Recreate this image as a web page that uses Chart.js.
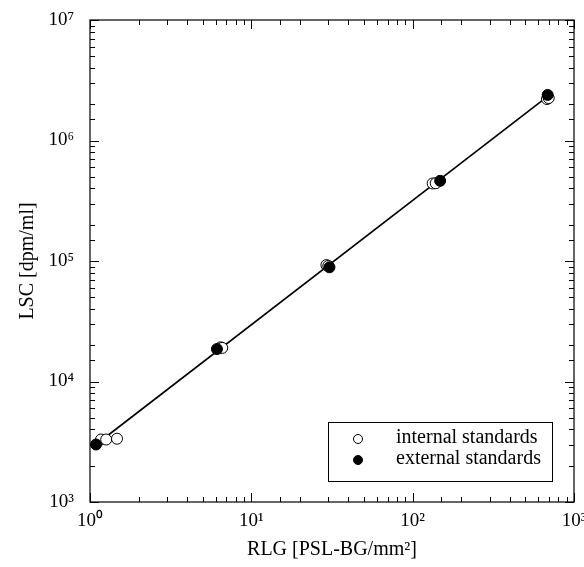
<!DOCTYPE html>
<html><head><meta charset="utf-8">
<script src="https://cdn.jsdelivr.net/npm/chart.js@4.4.1/dist/chart.umd.min.js"></script>
<style>html,body{margin:0;padding:0;background:#fff}</style>
</head><body>
<canvas id="c" width="584" height="567"></canvas>
<script>
// ---- data ----
const internalRLG = [1.17, 1.26, 1.47, 6.45, 6.6, 29.2, 30.0, 133, 139, 680, 697];
const internalLSC = [3300, 3300, 3350, 19200, 19000, 92500, 91000, 440000, 442000, 2210000, 2250000];
const externalRLG = [1.09, 6.12, 30.5, 148, 687];
const externalLSC = [3000, 18600, 88700, 463000, 2390000];
const fitRLG = [1.09, 680];
const fitLSC = [3000, 2300000];
const xTickLabels = ['10\u2070', '10\u00B9', '10\u00B2', '10\u00B3'];           // 10^0 .. 10^3
const yTickLabels = ['10\u00B3', '10\u2074', '10\u2075', '10\u2076', '10\u2077']; // 10^3 .. 10^7
const legendLabels = ['internal standards', 'external standards'];

const SERIF = '"Liberation Serif", "Times New Roman", serif';

function pts(xs, ys){ return xs.map((x,i)=>({x:x, y:ys[i]})); }
function isPow10(v){ const l = Math.log10(v); return Math.abs(l - Math.round(l)) < 1e-9; }
function zeroPad(s){ s.paddingLeft = 0; s.paddingRight = 0; s.paddingTop = 0; s.paddingBottom = 0; }

const framePlugin = {
  id: 'frame',
  afterDraw(chart){
    const {ctx, chartArea:a, scales} = chart;
    ctx.save();
    ctx.strokeStyle = '#000';
    ctx.lineWidth = 1.2;
    ctx.strokeRect(a.left, a.top, a.right - a.left, a.bottom - a.top);
    // inward ticks on all four sides
    const xs = scales.x, ys = scales.y;
    ctx.lineWidth = 1;
    ctx.beginPath();
    xs.ticks.forEach(t => {
      const p = Math.round(xs.getPixelForValue(t.value)) + 0.5;
      const L = isPow10(t.value) ? 9 : 5;
      ctx.moveTo(p, a.bottom); ctx.lineTo(p, a.bottom - L);
      ctx.moveTo(p, a.top); ctx.lineTo(p, a.top + L);
    });
    ys.ticks.forEach(t => {
      const p = Math.round(ys.getPixelForValue(t.value)) + 0.5;
      const L = isPow10(t.value) ? 9 : 5;
      ctx.moveTo(a.left, p); ctx.lineTo(a.left + L, p);
      ctx.moveTo(a.right, p); ctx.lineTo(a.right - L, p);
    });
    ctx.stroke();
    // legend box inside plot area
    const bx = 328, by = 422, bw = 224, bh = 59;
    ctx.fillStyle = '#fff';
    ctx.fillRect(bx, by, bw, bh);
    ctx.lineWidth = 1;
    ctx.strokeRect(bx + 0.5, by + 0.5, bw, bh);
    ctx.font = '20px ' + SERIF;
    ctx.textBaseline = 'middle';
    ctx.textAlign = 'left';
    const rows = [by + 16, by + 37];
    [1, 0].forEach((di, k) => {
      const ds = chart.data.datasets[di];
      ctx.beginPath();
      ctx.arc(bx + 30, rows[k] + 1, 4.5, 0, Math.PI * 2);
      ctx.fillStyle = ds.backgroundColor;
      ctx.fill();
      ctx.strokeStyle = '#000';
      ctx.stroke();
      ctx.fillStyle = '#000';
      ctx.fillText(ds.label, bx + 68, rows[k]);
    });
    ctx.restore();
  }
};

new Chart(document.getElementById('c'), {
  type: 'scatter',
  data: {
    datasets: [
      { label: legendLabels[1], data: pts(externalRLG, externalLSC),
        backgroundColor: '#000', borderColor: '#000', borderWidth: 1, pointRadius: 5.5 },
      { label: legendLabels[0], data: pts(internalRLG, internalLSC),
        backgroundColor: '#fff', borderColor: '#000', borderWidth: 1, pointRadius: 5.5 },
      { label: 'fit', type: 'line', data: pts(fitRLG, fitLSC), showLine: true,
        borderColor: '#000', borderWidth: 1.6, pointRadius: 0, fill: false }
    ]
  },
  options: {
    responsive: false,
    animation: false,
    events: [],
    layout: { autoPadding: false, padding: { top: 20, right: 10, left: 0, bottom: 0 } },
    plugins: { legend: { display: false }, tooltip: { enabled: false } },
    scales: {
      x: {
        type: 'logarithmic', min: 1, max: 1000,
        afterFit(s){ s.height = 65; zeroPad(s); },
        grid: { display: true, drawOnChartArea: false, drawTicks: false },
        border: { display: false },
        ticks: {
          autoSkip: false, maxRotation: 0, padding: 8, color: '#000',
          font: { family: SERIF, size: 19 },
          callback(v){ return isPow10(v) ? xTickLabels[Math.round(Math.log10(v))] : ''; }
        },
        title: { display: true, text: 'RLG [PSL-BG/mm\u00B2]', color: '#000',
          font: { family: SERIF, size: 20 }, padding: { top: 0, bottom: 5 } }
      },
      y: {
        type: 'logarithmic', min: 1000, max: 10000000,
        afterFit(s){ s.width = 90; zeroPad(s); },
        grid: { display: true, drawOnChartArea: false, drawTicks: false },
        border: { display: false },
        ticks: {
          autoSkip: false, padding: 16, color: '#000',
          font: { family: SERIF, size: 19 },
          callback(v){ return isPow10(v) ? yTickLabels[Math.round(Math.log10(v)) - 3] : ''; }
        },
        title: { display: true, text: 'LSC [dpm/ml]', color: '#000',
          font: { family: SERIF, size: 20 }, padding: { top: 16, bottom: 0 } }
      }
    }
  },
  plugins: [framePlugin]
});
</script>
</body></html>
